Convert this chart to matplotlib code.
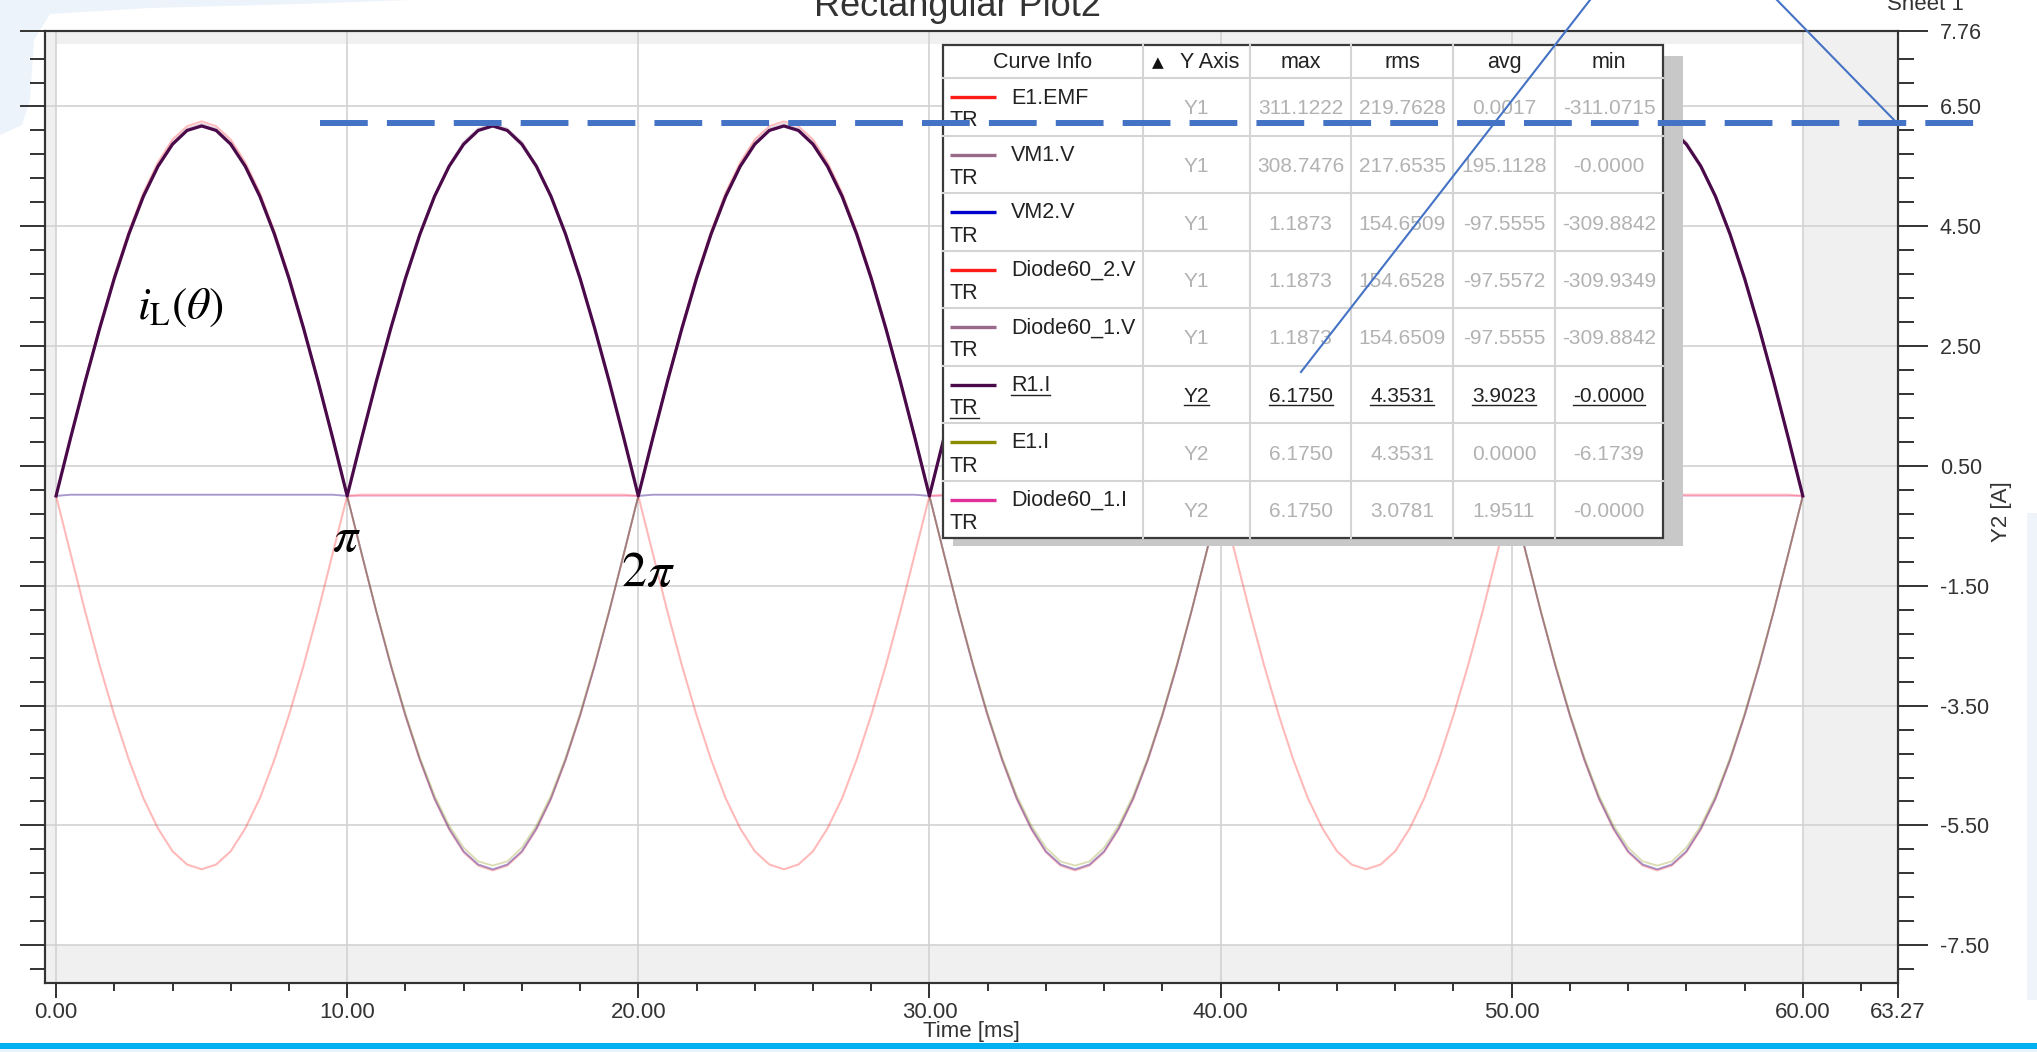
import numpy as np
import matplotlib
matplotlib.use("Agg")
import matplotlib.pyplot as plt
from matplotlib.patches import Rectangle, Polygon
from matplotlib.ticker import FixedLocator

plt.rcParams['font.family'] = ['Liberation Sans', 'DejaVu Sans']
plt.rcParams['mathtext.fontset'] = 'stix'

# ---------------- data ----------------
time_ms = np.arange(0, 60.5, 0.5)

r1_i = [
    0, 0.97, 1.91, 2.80, 3.63, 4.37, 5.00, 5.50, 5.87, 6.10, 6.175, 6.10, 5.87, 5.50, 5.00, 4.37, 3.63, 2.80, 1.91, 0.97,
    0, 0.97, 1.91, 2.80, 3.63, 4.37, 5.00, 5.50, 5.87, 6.10, 6.175, 6.10, 5.87, 5.50, 5.00, 4.37, 3.63, 2.80, 1.91, 0.97,
    0, 0.97, 1.91, 2.80, 3.63, 4.37, 5.00, 5.50, 5.87, 6.10, 6.175, 6.10, 5.87, 5.50, 5.00, 4.37, 3.63, 2.80, 1.91, 0.97,
    0, 0.97, 1.91, 2.80, 3.63, 4.37, 5.00, 5.50, 5.87, 6.10, 6.175, 6.10, 5.87, 5.50, 5.00, 4.37, 3.63, 2.80, 1.91, 0.97,
    0, 0.97, 1.91, 2.80, 3.63, 4.37, 5.00, 5.50, 5.87, 6.10, 6.175, 6.10, 5.87, 5.50, 5.00, 4.37, 3.63, 2.80, 1.91, 0.97,
    0, 0.97, 1.91, 2.80, 3.63, 4.37, 5.00, 5.50, 5.87, 6.10, 6.175, 6.10, 5.87, 5.50, 5.00, 4.37, 3.63, 2.80, 1.91, 0.97,
    0]

e1_i = [
    0, 0.97, 1.91, 2.80, 3.63, 4.37, 5.00, 5.50, 5.87, 6.10, 6.175, 6.10, 5.87, 5.50, 5.00, 4.37, 3.63, 2.80, 1.91, 0.97,
    0, -0.97, -1.91, -2.80, -3.63, -4.37, -5.00, -5.50, -5.87, -6.10, -6.17, -6.10, -5.87, -5.50, -5.00, -4.37, -3.63, -2.80, -1.91, -0.97,
    0, 0.97, 1.91, 2.80, 3.63, 4.37, 5.00, 5.50, 5.87, 6.10, 6.175, 6.10, 5.87, 5.50, 5.00, 4.37, 3.63, 2.80, 1.91, 0.97,
    0, -0.97, -1.91, -2.80, -3.63, -4.37, -5.00, -5.50, -5.87, -6.10, -6.17, -6.10, -5.87, -5.50, -5.00, -4.37, -3.63, -2.80, -1.91, -0.97,
    0, 0.97, 1.91, 2.80, 3.63, 4.37, 5.00, 5.50, 5.87, 6.10, 6.175, 6.10, 5.87, 5.50, 5.00, 4.37, 3.63, 2.80, 1.91, 0.97,
    0, -0.97, -1.91, -2.80, -3.63, -4.37, -5.00, -5.50, -5.87, -6.10, -6.17, -6.10, -5.87, -5.50, -5.00, -4.37, -3.63, -2.80, -1.91, -0.97,
    0]

diode60_1_i = [
    0, 0.97, 1.91, 2.80, 3.63, 4.37, 5.00, 5.50, 5.87, 6.10, 6.175, 6.10, 5.87, 5.50, 5.00, 4.37, 3.63, 2.80, 1.91, 0.97,
    0, 0, 0, 0, 0, 0, 0, 0, 0, 0, 0, 0, 0, 0, 0, 0, 0, 0, 0, 0,
    0, 0.97, 1.91, 2.80, 3.63, 4.37, 5.00, 5.50, 5.87, 6.10, 6.175, 6.10, 5.87, 5.50, 5.00, 4.37, 3.63, 2.80, 1.91, 0.97,
    0, 0, 0, 0, 0, 0, 0, 0, 0, 0, 0, 0, 0, 0, 0, 0, 0, 0, 0, 0,
    0, 0.97, 1.91, 2.80, 3.63, 4.37, 5.00, 5.50, 5.87, 6.10, 6.175, 6.10, 5.87, 5.50, 5.00, 4.37, 3.63, 2.80, 1.91, 0.97,
    0, 0, 0, 0, 0, 0, 0, 0, 0, 0, 0, 0, 0, 0, 0, 0, 0, 0, 0, 0,
    0]

e1_emf = [
    0, 49, 96, 141, 183, 220, 252, 277, 296, 307, 311, 307, 296, 277, 252, 220, 183, 141, 96, 49,
    0, -49, -96, -141, -183, -220, -252, -277, -296, -307, -311, -307, -296, -277, -252, -220, -183, -141, -96, -49,
    0, 49, 96, 141, 183, 220, 252, 277, 296, 307, 311, 307, 296, 277, 252, 220, 183, 141, 96, 49,
    0, -49, -96, -141, -183, -220, -252, -277, -296, -307, -311, -307, -296, -277, -252, -220, -183, -141, -96, -49,
    0, 49, 96, 141, 183, 220, 252, 277, 296, 307, 311, 307, 296, 277, 252, 220, 183, 141, 96, 49,
    0, -49, -96, -141, -183, -220, -252, -277, -296, -307, -311, -307, -296, -277, -252, -220, -183, -141, -96, -49,
    0]

vm1_v = [
    0, 48, 95, 140, 181, 218, 250, 275, 294, 305, 309, 305, 294, 275, 250, 218, 181, 140, 95, 48,
    0, 48, 95, 140, 181, 218, 250, 275, 294, 305, 309, 305, 294, 275, 250, 218, 181, 140, 95, 48,
    0, 48, 95, 140, 181, 218, 250, 275, 294, 305, 309, 305, 294, 275, 250, 218, 181, 140, 95, 48,
    0, 48, 95, 140, 181, 218, 250, 275, 294, 305, 309, 305, 294, 275, 250, 218, 181, 140, 95, 48,
    0, 48, 95, 140, 181, 218, 250, 275, 294, 305, 309, 305, 294, 275, 250, 218, 181, 140, 95, 48,
    0, 48, 95, 140, 181, 218, 250, 275, 294, 305, 309, 305, 294, 275, 250, 218, 181, 140, 95, 48,
    0]

diode60_2_v = [
    0, -48, -96, -141, -182, -219, -251, -276, -295, -306, -310, -306, -295, -276, -251, -219, -182, -141, -96, -48,
    0, 1, 1, 1, 1, 1, 1, 1, 1, 1, 1, 1, 1, 1, 1, 1, 1, 1, 1, 1,
    0, -48, -96, -141, -182, -219, -251, -276, -295, -306, -310, -306, -295, -276, -251, -219, -182, -141, -96, -48,
    0, 1, 1, 1, 1, 1, 1, 1, 1, 1, 1, 1, 1, 1, 1, 1, 1, 1, 1, 1,
    0, -48, -96, -141, -182, -219, -251, -276, -295, -306, -310, -306, -295, -276, -251, -219, -182, -141, -96, -48,
    0, 1, 1, 1, 1, 1, 1, 1, 1, 1, 1, 1, 1, 1, 1, 1, 1, 1, 1, 1,
    0]

diode60_1_v = [
    0, 1, 1, 1, 1, 1, 1, 1, 1, 1, 1, 1, 1, 1, 1, 1, 1, 1, 1, 1,
    0, -48, -96, -141, -182, -219, -251, -276, -295, -306, -310, -306, -295, -276, -251, -219, -182, -141, -96, -48,
    0, 1, 1, 1, 1, 1, 1, 1, 1, 1, 1, 1, 1, 1, 1, 1, 1, 1, 1, 1,
    0, -48, -96, -141, -182, -219, -251, -276, -295, -306, -310, -306, -295, -276, -251, -219, -182, -141, -96, -48,
    0, 1, 1, 1, 1, 1, 1, 1, 1, 1, 1, 1, 1, 1, 1, 1, 1, 1, 1, 1,
    0, -48, -96, -141, -182, -219, -251, -276, -295, -306, -310, -306, -295, -276, -251, -219, -182, -141, -96, -48,
    0]

vm2_v = list(diode60_1_v)

# table (Curve Info)
curve_names = ["E1.EMF", "VM1.V", "VM2.V", "Diode60_2.V", "Diode60_1.V", "R1.I", "E1.I", "Diode60_1.I"]
curve_axis = ["Y1", "Y1", "Y1", "Y1", "Y1", "Y2", "Y2", "Y2"]
curve_max = [311.1222, 308.7476, 1.1873, 1.1873, 1.1873, 6.1750, 6.1750, 6.1750]
curve_rms = [219.7628, 217.6535, 154.6509, 154.6528, 154.6509, 4.3531, 4.3531, 3.0781]
curve_avg = [0.0017, 195.1128, -97.5555, -97.5572, -97.5555, 3.9023, 0.0000, 1.9511]
curve_min = [-311.0715, -0.0, -309.8842, -309.9349, -309.8842, -0.0, -6.1739, -0.0]
curve_colors = ["#ff1a1a", "#9a6a8a", "#0000cc", "#ff1a1a", "#9a6a8a", "#4a0a4a", "#8c8c00", "#e0309a"]
selected = "R1.I"

x_major = [0, 10, 20, 30, 40, 50, 60, 63.27]
x_minor = [2, 4, 6, 8, 12, 14, 16, 18, 22, 24, 26, 28, 32, 34, 36, 38, 42, 44, 46, 48, 52, 54, 56, 58, 62]
y2_major = [-7.5, -5.5, -3.5, -1.5, 0.5, 2.5, 4.5, 6.5, 7.76]
y2_minor = [-7.9, -7.1, -6.7, -6.3, -5.9, -5.1, -4.7, -4.3, -3.9, -3.1, -2.7, -2.3, -1.9, -1.1, -0.7,
            -0.3, 0.1, 0.9, 1.3, 1.7, 2.1, 2.9, 3.3, 3.7, 4.1, 4.9, 5.3, 5.7, 6.1, 6.9, 7.3]
peak_level = 6.23          # dashed reference line (A)
v_per_a = 49.74            # Y1 [V] per Y2 [A] on screen

# ---------------- figure ----------------
W, H = 2037, 1052
fig = plt.figure(figsize=(W / 100, H / 100), dpi=100)
fig.patch.set_facecolor('white')

bg = fig.add_axes([0, 0, 1, 1], zorder=-5)
bg.set_xlim(0, W); bg.set_ylim(H, 0); bg.axis('off')
bg.add_patch(Polygon([(0, 0), (410, 0), (300, 4), (150, 8), (50, 14), (34, 40), (30, 100),
                      (22, 125), (0, 135)], closed=True, fc='#edf3fa', ec='none'))
bg.add_patch(Rectangle((2027, 513), 10, 487, fc='#eef4fa', ec='none'))
bg.add_patch(Rectangle((0, 1043), W, 6, fc='#00b0f0', ec='none'))
bg.add_patch(Rectangle((0, 1049), W, 3, fc='#e9f3fa', ec='none'))

L, R, T, B = 45, 1898, 31, 983
ax = fig.add_axes([L / W, 1 - B / H, (R - L) / W, (B - T) / H])
ax2 = ax.twinx()
ax.set_facecolor('#f0f0f0')

y2lim = (-8.13, 7.76)
ax2.set_ylim(*y2lim)
ax.set_ylim(y2lim[0] * v_per_a, y2lim[1] * v_per_a)
ax.set_xlim(-0.38, 63.27)

# white data region
ax.add_patch(Rectangle((0, -7.5), 60, 15.04, transform=ax2.transData, fc='white', ec='none', zorder=0.2))

# ticks
ax.xaxis.set_major_locator(FixedLocator(x_major))
ax.xaxis.set_minor_locator(FixedLocator(x_minor))
ax.set_xticklabels([f"{v:.2f}" for v in x_major])
ax.yaxis.set_major_locator(FixedLocator([v * v_per_a for v in y2_major]))
ax.yaxis.set_minor_locator(FixedLocator([v * v_per_a for v in y2_minor]))
ax.set_yticklabels([])
ax2.yaxis.set_major_locator(FixedLocator(y2_major))
ax2.yaxis.set_minor_locator(FixedLocator(y2_minor))
ax2.set_yticklabels([f"{v:.2f}" for v in y2_major])

tc = '#333333'
ax.tick_params(axis='x', which='major', length=10.8, width=1.4, color=tc, labelsize=16, pad=2.9, labelcolor=tc)
ax.tick_params(axis='x', which='minor', length=5.8, width=1.4, color=tc)
ax.tick_params(axis='y', which='major', length=18, width=1.4, color=tc, right=False, labelleft=False)
ax.tick_params(axis='y', which='minor', length=10.8, width=1.4, color=tc, right=False)
ax2.tick_params(axis='y', which='major', length=21.6, width=1.4, color=tc, labelsize=15.5, pad=8.6, labelcolor=tc)
ax2.tick_params(axis='y', which='minor', length=11.5, width=1.4, color=tc)

for a in (ax, ax2):
    for s in a.spines.values():
        s.set_color('#333333')
        s.set_linewidth(1.5)

ax.set_axisbelow(True)
ax.grid(True, which='major', color='#d2d2d2', lw=1.2)

# curves
fade = 0.3
ax.plot(time_ms, vm1_v, color=curve_colors[1], lw=1.3, alpha=fade, zorder=2)
ax.plot(time_ms, e1_emf, color=curve_colors[0], lw=1.3, alpha=fade, zorder=2)
ax.plot(time_ms, vm2_v, color=curve_colors[2], lw=1.3, alpha=fade, zorder=2)
ax.plot(time_ms, diode60_2_v, color=curve_colors[3], lw=1.5, alpha=fade, zorder=2)
ax.plot(time_ms, diode60_1_v, color=curve_colors[4], lw=1.3, alpha=0.35, zorder=2)
ax2.plot(time_ms, e1_i, color=curve_colors[6], lw=1.3, alpha=fade, zorder=2)
ax2.plot(time_ms, diode60_1_i, color=curve_colors[7], lw=1.3, alpha=fade, zorder=2)
ax2.plot(time_ms, r1_i, color=curve_colors[5], lw=2.3, zorder=3)

# titles / labels (pixel placed)
fig.text(957 / W, 1 - 16 / H, "Rectangular Plot2", ha='center', va='baseline', fontsize=26, color='#333333')
fig.text(1887 / W, 1 - 10 / H, "Sheet 1", ha='left', va='baseline', fontsize=16, color='#333333')
fig.text(971 / W, 1 - 1031 / H, "Time [ms]", ha='center', va='center', fontsize=16, color='#333333')
fig.text(2002 / W, 1 - 512 / H, "Y2 [A]", ha='center', va='center', rotation=90, fontsize=16, color='#333333')

# ---------------- overlay ----------------
ov = fig.add_axes([0, 0, 1, 1])
ov.set_zorder(10)
ov.patch.set_visible(False)
ov.set_xlim(0, W); ov.set_ylim(H, 0); ov.axis('off')

ov.text(180, 307, r'$i_{\mathrm{L}}(\theta)$', ha='center', va='center', fontsize=33, color='black')
ov.text(346, 538, r'$\pi$', ha='center', va='center', fontsize=36, color='black')
ov.text(648, 573, r'$2\pi$', ha='center', va='center', fontsize=36, color='black')

# table
cols = [943, 1143, 1250, 1351, 1453, 1555, 1663]
top, hdr = 45, 78
rh = 57.5
bot = hdr + rh * len(curve_names)
ov.add_patch(Rectangle((953, 56), cols[-1] - cols[0] + 10, bot - top - 3, fc='#c8c8c8', ec='none'))
ov.add_patch(Rectangle((cols[0], top), cols[-1] - cols[0], bot - top, fc='white', ec='none'))
for i in range(len(curve_names)):
    y = hdr + rh * i
    ov.plot([cols[0], cols[-1]], [y, y], color='#d4d4d4', lw=1.5)
for x in cols[1:-1]:
    ov.plot([x, x], [top, bot], color='#d4d4d4', lw=1.5)
ov.add_patch(Rectangle((cols[0], top), cols[-1] - cols[0], bot - top, fc='none', ec='#3a3a3a', lw=1.6))

hc = (top + hdr) / 2 + 1
fs = 15.5
ov.text((cols[0] + cols[1]) / 2, hc, "Curve Info", ha='center', va='center', fontsize=fs, color='#222222')
ov.text(1158, hc, "▲", ha='center', va='center', fontsize=11, color='#111111',
        family=['DejaVu Sans'])
ov.text(1210, hc, "Y Axis", ha='center', va='center', fontsize=fs, color='#222222')
for j, h in enumerate(["max", "rms", "avg", "min"]):
    ov.text((cols[2 + j] + cols[3 + j]) / 2, hc, h, ha='center', va='center', fontsize=fs, color='#222222')

under = []
for i, name in enumerate(curve_names):
    rt = hdr + rh * i
    sel = (name == selected)
    vc = '#222222' if sel else '#b2b2b2'
    ov.plot([950, 996], [rt + 19, rt + 19], color=curve_colors[i], lw=2.4, solid_capstyle='butt')
    t1 = ov.text(1011, rt + 20, name, ha='left', va='center', fontsize=15.5, color='#222222')
    t2 = ov.text(950, rt + 43, "TR", ha='left', va='center', fontsize=15.5, color='#222222')
    vals = [curve_axis[i], f"{curve_max[i]:.4f}", f"{curve_rms[i]:.4f}", f"{curve_avg[i]:.4f}", f"{curve_min[i]:.4f}"]
    ts = []
    for j, v in enumerate(vals):
        ts.append(ov.text((cols[1 + j] + cols[2 + j]) / 2, rt + 31, v, ha='center', va='center',
                          fontsize=15, color=vc))
    if sel:
        under = [t1, t2] + ts

# annotation lines
ov.plot([9.08, 65.9], [peak_level, peak_level], transform=ax2.transData, color='#4472c4', lw=4.3,
        dashes=(8.0, 3.2), clip_on=False, dash_capstyle='butt', zorder=6)
ov.plot([1301, 1301 + (1590 - 1301) * 1.2], [372, 372 - 372 * 1.2], color='#4472c4', lw=1.5, zorder=6)
ov.plot([1777 - 20, 1897], [-20 * 123 / 120, 123], color='#4472c4', lw=1.5, zorder=6)

# underline selected row
fig.canvas.draw()
rend = fig.canvas.get_renderer()
inv = ov.transData.inverted()
for t in under:
    bb = t.get_window_extent(rend)
    (x0, y0), (x1, y1) = inv.transform([(bb.x0, bb.y0), (bb.x1, bb.y0)])
    ov.plot([x0, x1], [y0 - 1, y1 - 1], color='#222222', lw=1.0)

fig.savefig("out.png", dpi=100)
